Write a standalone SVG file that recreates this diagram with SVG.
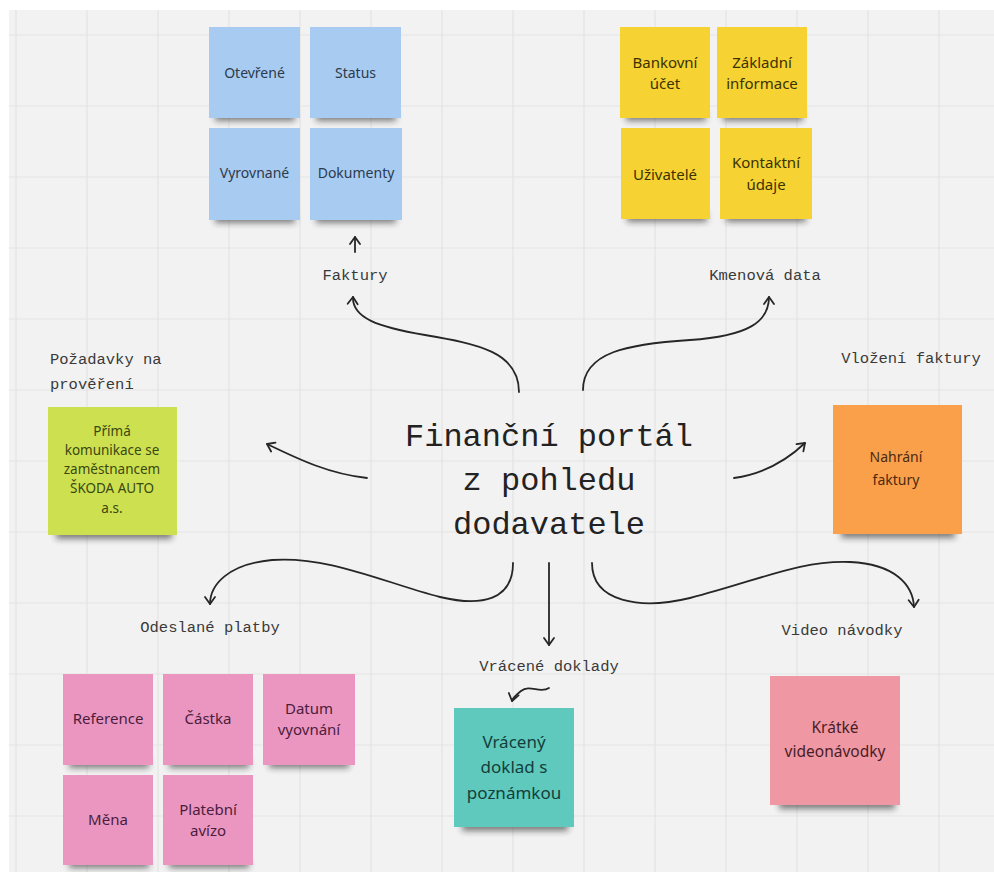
<svg xmlns="http://www.w3.org/2000/svg" width="994" height="872" viewBox="0 0 994 872">
<defs>
<filter id="sh" x="-20%" y="-80%" width="140%" height="400%"><feGaussianBlur stdDeviation="3.2"/></filter>
<marker id="ah" viewBox="-9 -7 11 14" refX="0" refY="0" markerWidth="11" markerHeight="14" markerUnits="userSpaceOnUse" orient="auto">
<path d="M-7,-5 L0,0 L-7,5" fill="none" stroke="#262626" stroke-width="1.8" stroke-linecap="round" stroke-linejoin="round"/>
</marker>
<style>
.grid{stroke:#e3e3e3;stroke-width:1.2;fill:none}
.shadow{fill:#1a1a1a;opacity:.55;filter:url(#sh)}
.lbl{font-family:"Liberation Mono","DejaVu Sans Mono",monospace;font-size:15.5px;fill:#3a3a3a}
.title{font-family:"Liberation Mono","DejaVu Sans Mono",monospace;font-size:32px;fill:#222;text-anchor:middle}
.nt{font-family:"Noto Sans","Open Sans",sans-serif;text-anchor:middle}
.conn path,.conn line{fill:none;stroke:#262626;stroke-width:1.8;stroke-linecap:round;marker-end:url(#ah)}
.blue{fill:#a8cbf2}.blueT{fill:#2c3a4c;font-size:14px}
.yel{fill:#f6d233}.yelT{fill:#3b3200;font-size:15px}
.grn{fill:#cde150}.grnT{fill:#3b4710;font-size:13.5px}
.org{fill:#faa04b}.orgT{fill:#4a2a10;font-size:14px}
.pnk{fill:#eb96c1}.pnkT{fill:#4a1d3c;font-size:15px}
.tea{fill:#60c9bd}.teaT{fill:#123f3b;font-size:17px}
.sal{fill:#f097a4}.salT{fill:#4a1d26;font-size:15.5px}
</style>
</defs>
<rect x="0" y="0" width="994" height="872" fill="#ffffff"/>
<rect x="9" y="10" width="985" height="862" fill="#f2f2f2"/>
<path class="grid" d="M16,10V872M87,10V872M158,10V872M229,10V872M300,10V872M371,10V872M442,10V872M513,10V872M584,10V872M655,10V872M726,10V872M797,10V872M868,10V872M939,10V872M9,35H994M9,106H994M9,177H994M9,248H994M9,319H994M9,390H994M9,461H994M9,532H994M9,603H994M9,674H994M9,745H994M9,816H994"/>

<g id="title">
<text class="title" x="549" y="446">Finanční portál</text>
<text class="title" x="549" y="490">z pohledu</text>
<text class="title" x="549" y="534">dodavatele</text>
</g>

<g class="conn" id="connectors">
<path d="M519,392 C519,352 478,344 425,335 C378,327 352,318 353,297"/>
<line x1="355" y1="252" x2="355" y2="237"/>
<path d="M583,390 C583,352 628,344 690,340 C748,336 769,322 769,297"/>
<path d="M367,478 C330,474 300,460 267,444"/>
<path d="M734,478 C762,474 785,462 805,443"/>
<path d="M513,563 C513,600 482,607 440,597 C382,582 330,556 272,560 C228,564 210,585 210,604"/>
<line x1="549" y1="563" x2="549" y2="645"/>
<path d="M549,688 C540,694 530,684 521,691 C516,695 513,697 512,701"/>
<path d="M592,563 C592,602 640,610 690,598 C760,580 800,560 850,562 C895,564 913,585 914,607"/>
</g>

<g id="labels">
<text class="lbl" x="355" y="280" text-anchor="middle">Faktury</text>
<text class="lbl" x="765" y="280" text-anchor="middle">Kmenová data</text>
<text class="lbl" x="50" y="364">Požadavky na</text>
<text class="lbl" x="50" y="389">prověření</text>
<text class="lbl" x="911" y="363" text-anchor="middle">Vložení faktury</text>
<text class="lbl" x="210" y="632" text-anchor="middle">Odeslané platby</text>
<text class="lbl" x="549" y="671" text-anchor="middle">Vrácené doklady</text>
<text class="lbl" x="842" y="635" text-anchor="middle">Video návodky</text>
</g>

<g id="n-otevrene"><rect class="shadow" x="215" y="112" width="80" height="9"/><rect class="blue" x="209" y="27" width="91" height="91"/><text class="nt blueT" x="254.5" y="78">Otevřené</text></g>
<g id="n-status"><rect class="shadow" x="316" y="112" width="80" height="9"/><rect class="blue" x="310" y="27" width="91" height="91"/><text class="nt blueT" x="355.5" y="78">Status</text></g>
<g id="n-vyrovnane"><rect class="shadow" x="215" y="214" width="80" height="9"/><rect class="blue" x="209" y="128" width="91" height="92"/><text class="nt blueT" x="254.5" y="178">Vyrovnané</text></g>
<g id="n-dokumenty"><rect class="shadow" x="316" y="214" width="80" height="9"/><rect class="blue" x="310" y="128" width="92" height="92"/><text class="nt blueT" x="356" y="178">Dokumenty</text></g>

<g id="n-bankovni"><rect class="shadow" x="626" y="112" width="80" height="9"/><rect class="yel" x="620" y="27" width="90" height="91"/><text class="nt yelT" x="665" y="68">Bankovní</text><text class="nt yelT" x="665" y="89">účet</text></g>
<g id="n-zakladni"><rect class="shadow" x="723" y="112" width="80" height="9"/><rect class="yel" x="717" y="27" width="90" height="91"/><text class="nt yelT" x="762" y="68">Základní</text><text class="nt yelT" x="762" y="89">informace</text></g>
<g id="n-uzivatele"><rect class="shadow" x="627" y="213" width="80" height="9"/><rect class="yel" x="621" y="128" width="89" height="91"/><text class="nt yelT" x="665" y="180">Uživatelé</text></g>
<g id="n-kontaktni"><rect class="shadow" x="726" y="213" width="80" height="9"/><rect class="yel" x="720" y="128" width="92" height="91"/><text class="nt yelT" x="766" y="168">Kontaktní</text><text class="nt yelT" x="766" y="190">údaje</text></g>

<g id="n-prima"><rect class="shadow" x="56" y="528" width="116" height="11"/><rect class="grn" x="48" y="407" width="129" height="128"/>
<text class="nt grnT" x="112" y="436">Přímá</text><text class="nt grnT" x="112" y="455">komunikace se</text><text class="nt grnT" x="112" y="474">zaměstnancem</text><text class="nt grnT" x="112" y="493">ŠKODA AUTO</text><text class="nt grnT" x="112" y="513">a.s.</text></g>

<g id="n-nahrani"><rect class="shadow" x="841" y="527" width="114" height="11"/><rect class="org" x="833" y="405" width="129" height="129"/><text class="nt orgT" x="896" y="462">Nahrání</text><text class="nt orgT" x="896" y="485">faktury</text></g>

<g id="n-reference"><rect class="shadow" x="69" y="759" width="80" height="9"/><rect class="pnk" x="63" y="674" width="90" height="91"/><text class="nt pnkT" x="108" y="724">Reference</text></g>
<g id="n-castka"><rect class="shadow" x="169" y="759" width="80" height="9"/><rect class="pnk" x="163" y="674" width="90" height="91"/><text class="nt pnkT" x="208" y="724">Částka</text></g>
<g id="n-datum"><rect class="shadow" x="269" y="759" width="80" height="9"/><rect class="pnk" x="263" y="674" width="92" height="91"/><text class="nt pnkT" x="309" y="714">Datum</text><text class="nt pnkT" x="309" y="735">vyovnání</text></g>
<g id="n-mena"><rect class="shadow" x="69" y="859" width="80" height="9"/><rect class="pnk" x="63" y="775" width="90" height="90"/><text class="nt pnkT" x="108" y="825">Měna</text></g>
<g id="n-avizo"><rect class="shadow" x="169" y="859" width="80" height="9"/><rect class="pnk" x="163" y="775" width="90" height="90"/><text class="nt pnkT" x="208" y="815">Platební</text><text class="nt pnkT" x="208" y="836">avízo</text></g>

<g id="n-vraceny"><rect class="shadow" x="462" y="820" width="106" height="11"/><rect class="tea" x="454" y="708" width="120" height="119"/><text class="nt teaT" x="514" y="748">Vrácený</text><text class="nt teaT" x="514" y="773">doklad s</text><text class="nt teaT" x="514" y="799">poznámkou</text></g>

<g id="n-kratke"><rect class="shadow" x="779" y="798" width="116" height="11"/><rect class="sal" x="770" y="676" width="130" height="129"/><text class="nt salT" x="835" y="733">Krátké</text><text class="nt salT" x="835" y="757">videonávodky</text></g>
</svg>
